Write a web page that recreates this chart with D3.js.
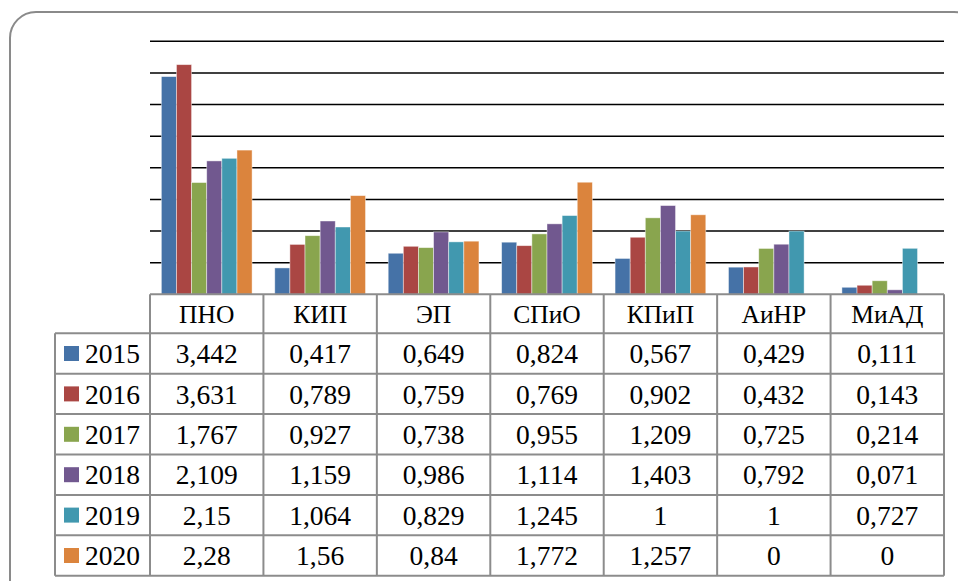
<!DOCTYPE html>
<html>
<head>
<meta charset="utf-8">
<script src="https://cdn.jsdelivr.net/npm/d3@7/dist/d3.min.js"></script>
<style>
html,body{margin:0;padding:0;background:#fff;overflow:hidden;}
svg{display:block;}
</style>
</head>
<body>
<svg id="chart" width="958" height="581"></svg>
<script>
const categories = ["ПНО", "КИП", "ЭП", "СПиО", "КПиП", "АиНР", "МиАД"];
const years = ["2015", "2016", "2017", "2018", "2019", "2020"];
const v2015 = [3.442, 0.417, 0.649, 0.824, 0.567, 0.429, 0.111];
const v2016 = [3.631, 0.789, 0.759, 0.769, 0.902, 0.432, 0.143];
const v2017 = [1.767, 0.927, 0.738, 0.955, 1.209, 0.725, 0.214];
const v2018 = [2.109, 1.159, 0.986, 1.114, 1.403, 0.792, 0.071];
const v2019 = [2.15, 1.064, 0.829, 1.245, 1, 1, 0.727];
const v2020 = [2.28, 1.56, 0.84, 1.772, 1.257, 0, 0];
const labels2015 = ["3,442", "0,417", "0,649", "0,824", "0,567", "0,429", "0,111"];
const labels2016 = ["3,631", "0,789", "0,759", "0,769", "0,902", "0,432", "0,143"];
const labels2017 = ["1,767", "0,927", "0,738", "0,955", "1,209", "0,725", "0,214"];
const labels2018 = ["2,109", "1,159", "0,986", "1,114", "1,403", "0,792", "0,071"];
const labels2019 = ["2,15", "1,064", "0,829", "1,245", "1", "1", "0,727"];
const labels2020 = ["2,28", "1,56", "0,84", "1,772", "1,257", "0", "0"];
const yTicks = [0.5, 1, 1.5, 2, 2.5, 3, 3.5, 4];
const colors = ["#4572A7", "#AA4643", "#89A54E", "#71588F", "#4198AF", "#DB843D"];

const seriesValues = [v2015, v2016, v2017, v2018, v2019, v2020];
const seriesLabels = [labels2015, labels2016, labels2017, labels2018, labels2019, labels2020];

const svg = d3.select("#chart");
const font = "'Liberation Serif', 'DejaVu Serif', serif";

// frame
svg.append("rect").attr("x", 10).attr("y", 12).attr("width", 970).attr("height", 600)
  .attr("rx", 26).attr("ry", 26).attr("fill", "#fff").attr("stroke", "#8a8a8a").attr("stroke-width", 2);

const plotLeft = 150, plotRight = 944, plotTop = 41.3, plotBottom = 294.3;
const x = d3.scaleBand().domain(categories).range([plotLeft, plotRight]).padding(0);
const x1 = d3.scaleBand().domain(years).range([0, x.bandwidth()]).paddingInner(0).paddingOuter(0.75);
const y = d3.scaleLinear().domain([0, 4]).range([plotBottom, plotTop]);

// gridlines
svg.append("g").selectAll("line").data(yTicks).join("line")
  .attr("x1", plotLeft).attr("x2", plotRight)
  .attr("y1", d => y(d)).attr("y2", d => y(d))
  .attr("stroke", "#000").attr("stroke-width", 1.6);

// bars
const groups = svg.append("g").selectAll("g").data(years).join("g")
  .attr("fill", (d, i) => colors[i]);
groups.selectAll("rect").data((yr, i) => categories.map((c, j) => ({c, yr, v: seriesValues[i][j]})))
  .join("rect")
  .attr("x", d => x(d.c) + x1(d.yr))
  .attr("width", x1.bandwidth())
  .attr("y", d => y(d.v))
  .attr("height", d => y(0) - y(d.v))
  .attr("stroke", d => d.v > 0 ? "rgba(255,255,255,0.55)" : "none")
  .attr("stroke-width", 0.8);

// data table
const headerTop = 294.3, headerBottom = 333.3;
const rowY = d3.scaleBand().domain(years).range([headerBottom, 575.7]).padding(0);
const legendLeft = 55;
const grid = svg.append("g").attr("stroke", "#8c8c8c").attr("stroke-width", 2).attr("fill", "none");
grid.append("line").attr("x1", plotLeft).attr("x2", plotRight).attr("y1", headerTop).attr("y2", headerTop);
const hLines = [headerBottom].concat(years.map(yr => rowY(yr) + rowY.bandwidth()));
grid.selectAll("line.h").data(hLines).join("line").attr("class", "h")
  .attr("x1", legendLeft).attr("x2", plotRight).attr("y1", d => d).attr("y2", d => d);
const vLines = categories.map(c => x(c)).concat([plotRight]);
grid.selectAll("line.v").data(vLines).join("line").attr("class", "v")
  .attr("x1", d => d).attr("x2", d => d).attr("y1", headerTop).attr("y2", 575.7);
grid.append("line").attr("x1", legendLeft).attr("x2", legendLeft).attr("y1", headerBottom).attr("y2", 575.7);

// header text
svg.append("g").selectAll("text").data(categories).join("text")
  .attr("x", d => x(d) + x.bandwidth() / 2)
  .attr("y", (headerTop + headerBottom) / 2)
  .attr("dy", "0.35em").attr("text-anchor", "middle")
  .attr("font-family", font).attr("font-size", 25.5).attr("fill", "#000")
  .text(d => d);

// rows
years.forEach((yr, i) => {
  const cy = rowY(yr) + rowY.bandwidth() / 2;
  svg.append("rect").attr("x", 64).attr("y", cy - 7.5).attr("width", 15).attr("height", 15).attr("fill", colors[i]);
  svg.append("text").attr("x", 85).attr("y", cy).attr("dy", "0.35em")
    .attr("font-family", font).attr("font-size", 27.5).attr("fill", "#000").text(yr);
  svg.append("g").selectAll("text").data(categories).join("text")
    .attr("x", d => x(d) + x.bandwidth() / 2)
    .attr("y", cy).attr("dy", "0.35em").attr("text-anchor", "middle")
    .attr("font-family", font).attr("font-size", 27.5).attr("fill", "#000")
    .text((d, j) => seriesLabels[i][j]);
});
</script>
</body>
</html>
